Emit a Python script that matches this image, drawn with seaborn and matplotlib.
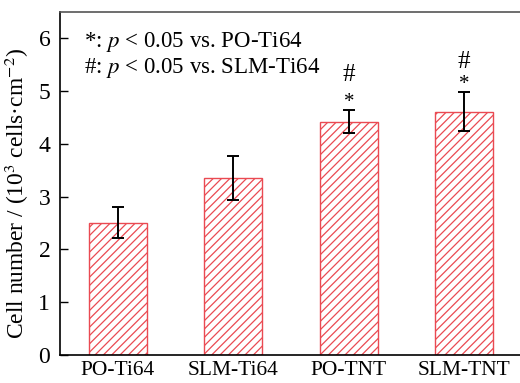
import matplotlib
matplotlib.use("Agg")
import matplotlib.pyplot as plt
import seaborn as sns
import pandas as pd
import numpy as np

categories = ["PO-Ti64", "SLM-Ti64", "PO-TNT", "SLM-TNT"]
means = [2.51, 3.35, 4.42, 4.61]
errors = [0.30, 0.42, 0.22, 0.37]
marks = [False, False, True, True]
yticks = [0, 1, 2, 3, 4, 5, 6]

sns.set_style("white")
plt.rcParams["font.family"] = ["Liberation Serif", "DejaVu Serif"]
plt.rcParams["mathtext.fontset"] = "stix"
plt.rcParams["hatch.linewidth"] = 0.9
plt.rcParams["text.color"] = "black"
plt.rcParams["axes.labelcolor"] = "black"
plt.rcParams["xtick.color"] = "black"
plt.rcParams["ytick.color"] = "black"

df = pd.DataFrame({"cat": categories, "val": means})

fig = plt.figure(figsize=(5.2, 3.83), dpi=100)
ax = fig.add_axes([60/520, 28/383, 462/520, 343/383])

sns.barplot(data=df, x="cat", y="val", ax=ax, width=0.5, errorbar=None,
            color="white", edgecolor="#e8404a", linewidth=1.0)
for p in ax.patches:
    p.set_hatch("////")
    p.set_facecolor("white")
    p.set_edgecolor("#ea4a52")

xs = np.arange(len(categories))
ax.errorbar(xs, means, yerr=errors, fmt="none", ecolor="black",
            elinewidth=1.4, capsize=4, capthick=1.4)

hash_gap = {2: 0.55, 3: 0.45}
for x, m, e, t in zip(xs, means, errors, marks):
    if t:
        ax.text(x, m + e + 0.065, "*", ha="center", va="baseline", fontsize=15)
        ax.text(x, m + e + hash_gap[int(x)], "#", ha="center", va="baseline", fontsize=18)

ax.text(0.053, 0.898, "*: $p$ < 0.05 vs. PO-Ti64", transform=ax.transAxes,
        fontsize=16.5, va="baseline")
ax.text(0.053, 0.8207, "#: $p$ < 0.05 vs. SLM-Ti64", transform=ax.transAxes,
        fontsize=16.5, va="baseline")

ax.set_xlim(-0.5, 3.5)
ax.set_ylim(0, 6.5)
ax.set_yticks(yticks)
ax.set_yticklabels([str(v) for v in yticks])
ax.set_xlabel("")
ax.set_ylabel("Cell number / (10$^3$ cells·cm$^{-2}$)", fontsize=16.9)
ax.yaxis.set_label_coords(-0.063, 0.471)
ax.tick_params(axis="y", direction="in", length=6, width=1, labelsize=17, left=True, pad=7)
ax.tick_params(axis="x", length=0, labelsize=15.5, pad=4)
for s in ["left", "bottom", "top"]:
    ax.spines[s].set_visible(True)
    ax.spines[s].set_color("black")
    ax.spines[s].set_linewidth(1.2)
ax.spines["top"].set_color("#555555")
ax.spines["right"].set_visible(False)

fig.savefig("out.png", dpi=100)
